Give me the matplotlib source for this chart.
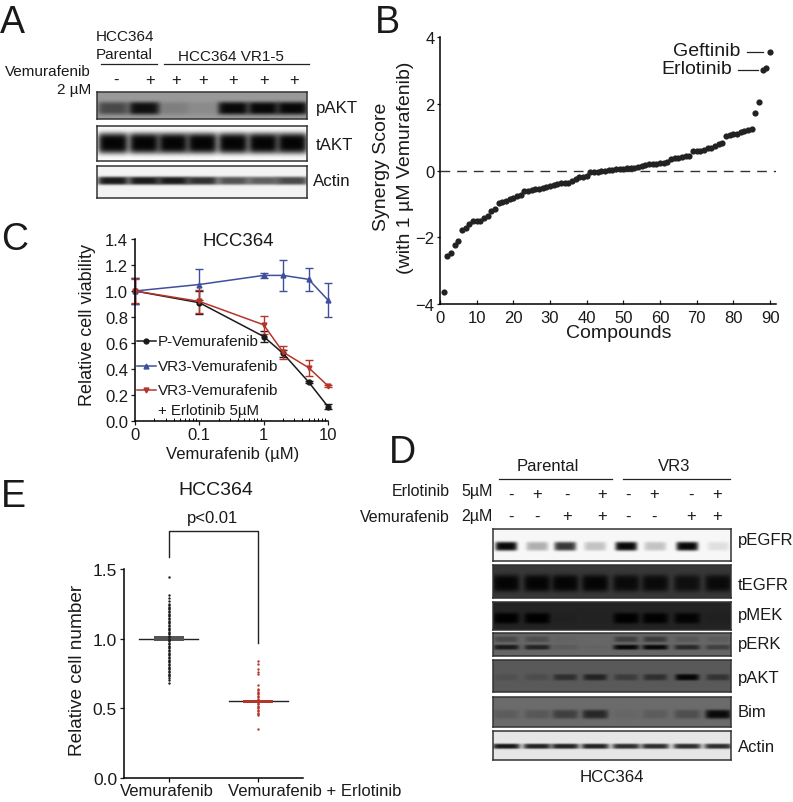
import numpy as np
import matplotlib
matplotlib.use('Agg')
import matplotlib.pyplot as plt
from matplotlib.lines import Line2D

plt.rcParams['font.family'] = ['Liberation Sans', 'DejaVu Sans']

W, H = 793, 803

# panel B
synergy = [-3.65, -2.55, -2.47, -2.22, -2.1, -1.78, -1.72, -1.6, -1.52, -1.52,
           -1.52, -1.42, -1.37, -1.2, -1.14, -0.97, -0.93, -0.9, -0.86, -0.82,
           -0.77, -0.74, -0.6, -0.6, -0.58, -0.56, -0.54, -0.52, -0.5, -0.47,
           -0.42, -0.4, -0.38, -0.37, -0.36, -0.32, -0.24, -0.2, -0.18, -0.17,
           -0.05, -0.04, -0.03, -0.02, 0.0, 0.01, 0.02, 0.03, 0.04, 0.05,
           0.06, 0.07, 0.08, 0.09, 0.12, 0.15, 0.18, 0.2, 0.2, 0.21,
           0.22, 0.25, 0.33, 0.37, 0.38, 0.4, 0.42, 0.43, 0.57, 0.58,
           0.59, 0.62, 0.66, 0.68, 0.72, 0.8, 0.82, 1.02, 1.06, 1.1,
           1.1, 1.15, 1.17, 1.2, 1.23, 1.73, 2.05, 3.02, 3.07, 3.55]

# panel C, dose 0 sits at 0.01 on the log axis
dose = [0.01, 0.1, 1, 2, 5, 10]
dose_labels = ['0', '0.1', '1', '10']
p_vem = [1.0, 0.91, 0.65, 0.52, 0.30, 0.11]
p_err = [0.10, 0.09, 0.04, 0.03, 0.01, 0.02]
vr3_vem = [1.0, 1.05, 1.12, 1.12, 1.09, 0.93]
vr3_err = [0.10, 0.12, 0.02, 0.12, 0.09, 0.13]
vr3_erl = [1.0, 0.92, 0.74, 0.53, 0.41, 0.27]
erl_err = [0.09, 0.09, 0.07, 0.05, 0.06, 0.01]

# panel E
vem_cells = [0.68, 0.70, 0.72, 0.73, 0.74, 0.75, 0.76, 0.77, 0.78, 0.79, 0.80, 0.81,
             0.82, 0.83, 0.84, 0.85, 0.86, 0.87, 0.88, 0.89, 0.90, 0.91, 0.92, 0.93,
             0.94, 0.95, 0.96, 0.97, 0.98, 0.99, 1.00, 1.01, 1.02, 1.03, 1.04, 1.05,
             1.06, 1.07, 1.08, 1.09, 1.10, 1.11, 1.12, 1.13, 1.14, 1.15, 1.16, 1.17,
             1.18, 1.19, 1.20, 1.21, 1.22, 1.23, 1.24, 1.25, 1.27, 1.29, 1.31, 1.44]
combo_cells = [0.35, 0.45, 0.46, 0.47, 0.48, 0.49, 0.50, 0.51, 0.52, 0.53, 0.54, 0.55,
               0.56, 0.57, 0.58, 0.59, 0.60, 0.61, 0.62, 0.63, 0.64, 0.67, 0.75, 0.76,
               0.78, 0.82, 0.84]
cell_mean = [1.0, 0.55]
cell_sem = [0.02, 0.012]

# blot band strengths per lane
a_lanes = [113, 144, 173, 202, 233, 263, 292]
a_pakt = [0.55, 0.95, 0.18, 0.1, 1, 1, 1]
a_takt = [1, 1, 1, 1, 1, 1, 1]
a_actin = [0.95, 0.95, 0.95, 0.85, 0.7, 0.65, 0.75]

d_lanes = [506, 537, 565, 595, 626, 655, 687, 718]
d_pegfr = [1, 0.3, 0.8, 0.22, 1, 0.22, 1, 0.1]
d_tegfr = [1, 1, 1, 1, 0.9, 0.9, 0.8, 0.9]
d_pmek = [1, 1, 0.08, 0.05, 1, 0.95, 0.9, 0.1]
d_perk_low = [0.8, 0.7, 0.12, 0.03, 1, 1, 0.65, 0.4]
d_perk_up = [0.3, 0.25, 0.03, 0.0, 0.4, 0.45, 0.15, 0.1]
d_pakt = [0.1, 0.15, 0.5, 0.65, 0.35, 0.5, 1, 0.45]
d_bim = [0.15, 0.2, 0.45, 0.7, 0.05, 0.15, 0.3, 1]
d_actin = [0.95, 0.9, 0.9, 0.9, 0.85, 0.85, 0.85, 0.85]

fig = plt.figure(figsize=(W / 100, H / 100), dpi=100)


def ax_px(x0, y0, x1, y1):
    return fig.add_axes([x0 / W, 1 - y1 / H, (x1 - x0) / W, (y1 - y0) / H])


def tx(x, y, s, size=10.5, ha='left', va='center', **kw):
    fig.text(x / W, 1 - y / H, s, fontsize=size, ha=ha, va=va, color='#1a1a1a', **kw)


def ln(xs, ys, color='#222222', lw=0.9, **kw):
    fig.add_artist(Line2D([x / W for x in xs], [1 - y / H for y in ys], color=color, lw=lw, **kw))


def blot(x0, y0, x1, y1, bg, dark, layers):
    # layers: (lane centres, strengths, band y, half height, half width)
    xx, yy = np.meshgrid(np.arange(x0, x1, 0.5), np.arange(y0, y1, 0.5))
    img = np.full(xx.shape, float(bg))
    for lanes, vals, yc, hh, hw in layers:
        for xc, v in zip(lanes, vals):
            a = v * np.exp(-((xx - xc) / hw) ** 6) * np.exp(-((yy - yc) / hh) ** 4)
            img = img - (img - dark) * a
    ax = ax_px(x0, y0, x1, y1)
    ax.imshow(img, cmap='gray', vmin=0, vmax=1, aspect='auto', interpolation='bilinear')
    ax.set_xticks([])
    ax.set_yticks([])
    for s in ax.spines.values():
        s.set_linewidth(1.1)
        s.set_color('#333333')


def clean(ax):
    ax.spines['top'].set_visible(False)
    ax.spines['right'].set_visible(False)
    ax.spines['left'].set_linewidth(1.1)
    ax.spines['bottom'].set_linewidth(1.1)
    ax.patch.set_alpha(0)


# panel letters
tx(0, 23, 'A', 27)
tx(375, 23, 'B', 27)
tx(1, 240, 'C', 27)
tx(389, 453, 'D', 27)
tx(1, 497, 'E', 27)

# A
tx(96, 37, 'HCC364', 11)
tx(96, 55, 'Parental', 11)
tx(231, 57, 'HCC364 VR1-5', 11, ha='center')
ln([101, 157], [65, 65])
ln([164, 309], [65, 65])
tx(91, 72, 'Vemurafenib', 11, ha='right')
tx(91, 90, '2 µM', 11, ha='right')
for x, s in zip([116, 150, 176, 203, 233, 264, 294], ['-', '+', '+', '+', '+', '+', '+']):
    tx(x, 80, s, 12, ha='center')
blot(97, 93, 307, 120, 0.6, 0.03, [(a_lanes, a_pakt, 109, 6.5, 15.5)])
blot(97, 127, 307, 162, 0.98, 0.02, [(a_lanes, a_takt, 144, 10.5, 15.5)])
blot(97, 167, 307, 199, 0.95, 0.06, [(a_lanes, a_actin, 182, 4, 16)])
tx(316, 108, 'pAKT', 12.2)
tx(316, 145, 'tAKT', 12.2)
tx(313, 182, 'Actin', 12.2)

# B
ax = ax_px(440, 38, 776, 305)
ax.scatter(np.arange(1, len(synergy) + 1), synergy, s=20, color='#222222', zorder=3, clip_on=False, linewidths=0)
ax.axhline(0, color='#333333', lw=1.0, dashes=(7, 5))
ax.set_xlim(0, 91.6)
ax.set_ylim(-4, 4)
ax.set_xticks(range(0, 91, 10))
ax.set_yticks([-4, -2, 0, 2, 4])
ax.set_yticklabels(['−4', '−2', '0', '2', '4'])
ax.tick_params(axis='x', direction='in', length=3, width=0.9, labelsize=12, pad=4, colors='#1a1a1a')
ax.tick_params(axis='y', direction='out', length=2, width=0.9, labelsize=12, pad=2, colors='#1a1a1a')
clean(ax)
tx(381, 167, 'Synergy Score', 14, ha='center', rotation=90)
tx(405, 168, '(with 1 µM Vemurafenib)', 14, ha='center', rotation=90)
tx(619, 334, 'Compounds', 14, ha='center')
tx(740, 52, 'Geftinib', 14, ha='right')
tx(732, 70, 'Erlotinib', 14, ha='right')
ln([747, 763], [53, 53])
ln([738, 758], [71, 71])

# C
blue = '#3f4f9b'
red = '#b5352a'
black = '#1a1a1a'
ax = ax_px(135, 240, 328, 422)
ax.set_xscale('log')
for y, e, c, m, ms in [(p_vem, p_err, black, 'o', 3.5), (vr3_vem, vr3_err, blue, '^', 3.5), (vr3_erl, erl_err, red, 'v', 3.5)]:
    ax.errorbar(dose, y, yerr=e, color=c, marker=m, ms=ms, lw=1.1, elinewidth=1.0,
                capsize=3, capthick=1.0, clip_on=False)
ax.set_xlim(0.01, 10)
ax.set_ylim(0, 1.4)
ax.set_xticks([0.01, 0.1, 1, 10])
ax.set_xticklabels(dose_labels)
ax.set_yticks([0, 0.2, 0.4, 0.6, 0.8, 1.0, 1.2, 1.4])
ax.tick_params(axis='x', which='major', direction='out', length=3, width=0.9, labelsize=12, pad=1, colors='#1a1a1a')
ax.tick_params(axis='x', which='minor', direction='in', length=2, width=0.7)
ax.tick_params(axis='y', direction='out', length=3, width=0.9, labelsize=12, pad=2, colors='#1a1a1a')
clean(ax)
tx(238, 242, 'HCC364', 13.4, ha='center')
tx(88, 325, 'Relative cell viability', 13, ha='center', rotation=90)
tx(233, 455, 'Vemurafenib (µM)', 12, ha='center')
for y, c, m, s in [(342, black, 'o', 'P-Vemurafenib'), (367, blue, '^', 'VR3-Vemurafenib'), (391, red, 'v', 'VR3-Vemurafenib')]:
    ln([137, 156], [y, y], color=c, lw=1.1)
    ln([146], [y], color=c, marker=m, ms=3.5, lw=0)
    tx(158, y, s, 11)
tx(158, 411, '+ Erlotinib 5µM', 10.8)

# E
ax = ax_px(124, 570, 303, 779)
ax.set_xlim(-0.5, 1.5)
ax.set_ylim(0, 1.5)
for i, (vals, c) in enumerate([(vem_cells, black), (combo_cells, red)]):
    ax.scatter([i] * len(vals), vals, s=3, color=c, linewidths=0, zorder=3)
    ax.plot([i - 0.33, i + 0.33], [cell_mean[i]] * 2, color='#222222', lw=1.0, zorder=2)
    ax.fill_between([i - 0.17, i + 0.17], cell_mean[i] - cell_sem[i], cell_mean[i] + cell_sem[i],
                    color='#555555' if i == 0 else c, lw=0, zorder=2)
ax.set_xticks([0, 1])
ax.set_xticklabels([])
ax.set_yticks([0, 0.5, 1.0, 1.5])
ax.tick_params(axis='x', direction='out', length=3, width=0.9)
ax.tick_params(axis='y', direction='out', length=3, width=0.9, labelsize=12.5, pad=2, colors='#1a1a1a')
clean(ax)
tx(216, 491, 'HCC364', 14, ha='center')
tx(213, 519, 'p<0.01', 12, ha='center')
ln([169, 169, 258, 258], [558, 532, 532, 644], lw=1.0)
tx(78, 670, 'Relative cell number', 13.7, ha='center', rotation=90)
tx(167, 792, 'Vemurafenib', 12, ha='center')
tx(315, 792, 'Vemurafenib + Erlotinib', 12, ha='center')

# D
tx(548, 467, 'Parental', 12, ha='center')
tx(674, 467, 'VR3', 12, ha='center')
ln([499, 612], [480, 480])
ln([623, 730], [480, 480])
tx(450, 492, 'Erlotinib', 11.5, ha='right')
tx(493, 492, '5µM', 11.5, ha='right')
tx(450, 517, 'Vemurafenib', 11.5, ha='right')
tx(493, 517, '2µM', 11.5, ha='right')
sign_x = [511, 537, 567, 602, 628, 654, 691, 717]
for x, s in zip(sign_x, ['-', '+', '-', '+', '-', '+', '-', '+']):
    tx(x, 495, s, 12, ha='center')
for x, s in zip(sign_x, ['-', '-', '+', '+', '-', '-', '+', '+']):
    tx(x, 517, s, 12, ha='center')
blot(493, 530, 731, 562, 0.97, 0.03, [(d_lanes, d_pegfr, 547, 4.5, 11)])
blot(493, 566, 731, 599, 0.22, 0.02, [(d_lanes, d_tegfr, 584, 8.5, 13.5)])
blot(493, 603, 731, 631, 0.14, 0.0, [(d_lanes, d_pmek, 619, 5.5, 13)])
blot(493, 634, 731, 657, 0.4, 0.03, [(d_lanes, d_perk_up, 640, 2.8, 12), (d_lanes, d_perk_low, 648, 2.5, 13)])
blot(493, 661, 731, 693, 0.35, 0.02, [(d_lanes, d_pakt, 678, 3.2, 12)])
blot(493, 698, 731, 728, 0.42, 0.04, [(d_lanes, d_bim, 715, 4.5, 13)])
blot(493, 732, 731, 761, 0.9, 0.05, [(d_lanes, d_actin, 747, 2.6, 14)])
for y, s in zip([541, 586, 616, 645, 678, 713, 748], ['pEGFR', 'tEGFR', 'pMEK', 'pERK', 'pAKT', 'Bim', 'Actin']):
    tx(738, y, s, 12)
tx(612, 778, 'HCC364', 12.2, ha='center')

fig.savefig('out.png', dpi=100)
